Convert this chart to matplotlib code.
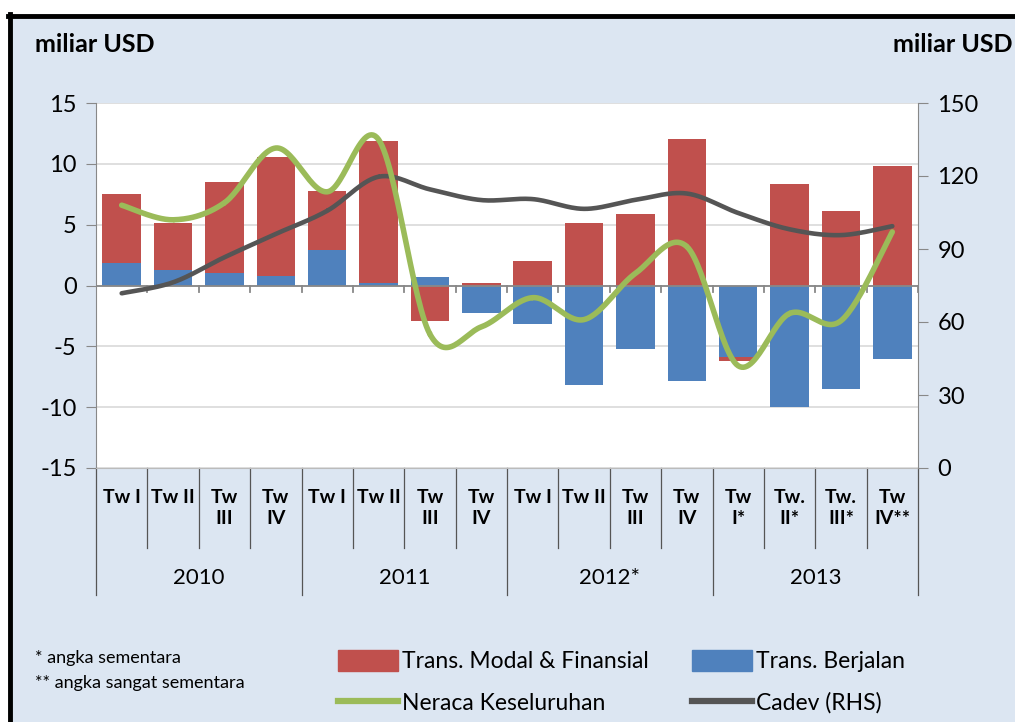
import numpy as np
import matplotlib.pyplot as plt
from matplotlib.patches import Patch
from matplotlib.lines import Line2D

plt.rcParams['font.family'] = ['Lato', 'DejaVu Sans']
plt.rcParams['axes.unicode_minus'] = False

# data
quarters = ["Tw I", "Tw II", "Tw\nIII", "Tw\nIV",
            "Tw I", "Tw II", "Tw\nIII", "Tw\nIV",
            "Tw I", "Tw II", "Tw\nIII", "Tw\nIV",
            "Tw\nI*", "Tw.\nII*", "Tw.\nIII*", "Tw\nIV**"]
years = ["2010", "2011", "2012*", "2013"]

modal = [7.5, 5.1, 8.5, 10.6, 7.75, 11.9, -2.95, 0.2,
         2.05, 5.1, 5.85, 12.05, -6.2, 8.35, 6.1, 9.85]
berjalan = [1.85, 1.3, 1.0, 0.8, 2.9, 0.2, 0.7, -2.3,
            -3.2, -8.2, -5.25, -7.85, -5.85, -10.0, -8.5, -6.0]
neraca = [6.6, 5.4, 6.8, 11.3, 7.7, 12.0, -4.0, -3.4,
          -1.0, -2.8, 1.0, 3.2, -6.6, -2.3, -2.9, 4.4]
cadev = [71.8, 76.3, 86.6, 96.2, 105.7, 119.7, 114.5, 110.1,
         110.5, 106.5, 110.2, 112.8, 104.8, 98.1, 95.7, 99.4]

RED = "#c0504d"
BLUE = "#4f81bd"
GREEN = "#9bbb59"
GREY = "#555555"
BG = "#dce6f2"


def smooth(x, y, n=30):
    # Catmull-Rom curve through the points, like Excel's smoothed line
    x = np.asarray(x, float)
    y = np.asarray(y, float)
    px = np.concatenate([[x[0]], x, [x[-1]]])
    py = np.concatenate([[y[0]], y, [y[-1]]])
    xs, ys = [], []
    t = np.linspace(0, 1, n)
    for i in range(1, len(px) - 2):
        for p, out in ((px, xs), (py, ys)):
            p0, p1, p2, p3 = p[i - 1], p[i], p[i + 1], p[i + 2]
            out.extend(0.5 * (2 * p1 + (-p0 + p2) * t
                              + (2 * p0 - 5 * p1 + 4 * p2 - p3) * t ** 2
                              + (-p0 + 3 * p1 - 3 * p2 + p3) * t ** 3))
    return np.array(xs), np.array(ys)


fig = plt.figure(figsize=(10.15, 7.22), dpi=100)
fig.patch.set_facecolor(BG)

# white strip + black frame like the cropped screenshot
fig.add_artist(plt.Rectangle((0, 1 - 14 / 722), 1, 14 / 722, transform=fig.transFigure,
                             facecolor="white", edgecolor="none", zorder=0))
fig.add_artist(plt.Rectangle((0, 0), 8 / 1015, 1, transform=fig.transFigure,
                             facecolor="white", edgecolor="none", zorder=0))
fig.add_artist(Line2D([8 / 1015, 1], [1 - 16 / 722, 1 - 16 / 722], transform=fig.transFigure,
                      color="black", lw=3.5))
fig.add_artist(Line2D([10 / 1015, 10 / 1015], [0, 1 - 14 / 722], transform=fig.transFigure,
                      color="black", lw=3.5))

ax = fig.add_axes([96 / 1015, 254 / 722, 822 / 1015, 365 / 722])
ax.set_facecolor("white")
x = np.arange(len(quarters))

ax.bar(x, modal, width=0.75, color=RED, zorder=2)
ax.bar(x, berjalan, width=0.75, color=BLUE, zorder=3)

ax.set_xlim(-0.5, len(quarters) - 0.5)
ax.set_ylim(-15, 15)
ax.set_yticks(np.arange(-15, 16, 5))
ax.tick_params(axis="y", labelsize=17, length=7, color="#888888", pad=7)
ax.grid(axis="y", color="#d9d9d9", lw=1.2, zorder=0)
ax.set_axisbelow(True)
ax.axhline(0, color="#888888", lw=1.3, zorder=4)
for b in np.arange(-0.5, len(quarters), 1.0):
    ax.plot([b, b], [0, -0.5], color="#888888", lw=1.3, zorder=4)
ax.set_xticks([])
for s in ["top", "right"]:
    ax.spines[s].set_visible(False)
ax.spines["left"].set_color("#888888")
ax.spines["bottom"].set_color("#bbbbbb")

# right axis only carries the Cadev scale; the line is drawn on the left axis, mapped
ax2 = ax.twinx()
ax2.set_ylim(0, 150)
ax2.set_yticks(np.arange(0, 151, 30))
ax2.tick_params(axis="y", labelsize=17, length=7, color="#888888", pad=7)
for s in ["top", "left", "bottom"]:
    ax2.spines[s].set_visible(False)
ax2.spines["right"].set_color("#888888")
ax2.patch.set_visible(False)

cx, cy = smooth(x, cadev)
ax.plot(cx, cy / 5 - 15, color=GREY, lw=3.3, zorder=5, solid_capstyle="round")
sx, sy = smooth(x, neraca)
ax.plot(sx, sy, color=GREEN, lw=4.0, zorder=6, solid_capstyle="round")

# category axis below the plot
tr = ax.get_xaxis_transform()
for i, q in enumerate(quarters):
    ax.text(i, -0.058, q, transform=tr, ha="center", va="top", fontsize=14,
            fontweight="bold", linespacing=1.25, clip_on=False)
for b in np.arange(-0.5, len(quarters), 1.0):
    yend = -0.348 if (b + 0.5) % 4 == 0 else -0.219
    ax.plot([b, b], [0, yend], transform=tr, color="#555555", lw=0.9, clip_on=False)
for k, yr in enumerate(years):
    ax.text(4 * k + 1.5, -0.30, yr, transform=tr, ha="center", va="center",
            fontsize=16, clip_on=False)

fig.text(35 / 1015, 1 - 44 / 722, "miliar USD", fontsize=18, fontweight="bold", va="center")
fig.text(893 / 1015, 1 - 44 / 722, "miliar USD", fontsize=18, fontweight="bold", va="center")

fig.text(35 / 1015, 1 - 658 / 722, "* angka sementara", fontsize=13, va="center")
fig.text(35 / 1015, 1 - 683 / 722, "** angka sangat sementara", fontsize=13, va="center")

col1 = [Patch(color=RED, label="Trans. Modal & Finansial"),
        Line2D([], [], color=GREEN, lw=4.5, label="Neraca Keseluruhan")]
col2 = [Patch(color=BLUE, label="Trans. Berjalan"),
        Line2D([], [], color=GREY, lw=4.5, label="Cadev (RHS)")]
for hs, x0 in ((col1, 338), (col2, 692)):
    fig.legend(handles=hs, loc="center left", bbox_to_anchor=(x0 / 1015, 1 - 682 / 722),
               frameon=False, fontsize=16.5, handlelength=2.6, handleheight=1.0,
               handletextpad=0.2, labelspacing=0.85, borderaxespad=0, borderpad=0)

fig.savefig("out.png", dpi=100, facecolor=fig.get_facecolor())
